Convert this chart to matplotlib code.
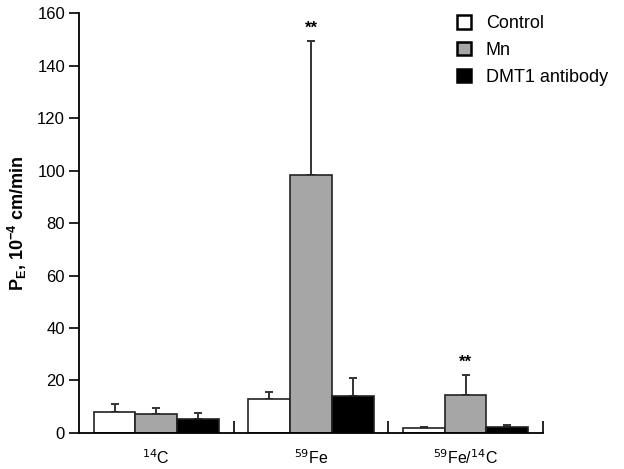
import matplotlib
matplotlib.use("Agg")
import matplotlib.pyplot as plt
from matplotlib.patches import Patch
import numpy as np

plt.rcParams['font.family'] = ['Liberation Sans', 'DejaVu Sans']

categories = ["$^{14}$C", "$^{59}$Fe", "$^{59}$Fe/$^{14}$C"]
series = ["Control", "Mn", "DMT1 antibody"]
control = [8.1, 12.8, 1.8]
mn = [7.2, 98.3, 14.6]
dmt1 = [5.5, 14.2, 2.4]
control_err = [2.8, 2.7, 0.4]
mn_err = [2.2, 51.2, 7.4]
dmt1_err = [2.2, 6.8, 0.5]
stars = ["", "**", "**"]

fig = plt.figure(figsize=(6.24, 4.69), dpi=100)
ax = fig.add_axes([0.1266, 0.0768, 0.7434, 0.8952])

colors = ["white", "#a6a6a6", "black"]
vals = [control, mn, dmt1]
errs = [control_err, mn_err, dmt1_err]
centers = np.arange(len(categories)) + 0.5
w = 0.27
for i, (v, e, c) in enumerate(zip(vals, errs, colors)):
    x = centers + (i - 1) * w
    ax.bar(x, v, width=w, color=c, edgecolor="#222222", linewidth=1.2, zorder=2)
    ax.errorbar(x, v, yerr=[np.zeros(len(v)), e], fmt="none", ecolor="#333333",
                elinewidth=1.4, capsize=3, capthick=1.4, zorder=1)

for j, s in enumerate(stars):
    if s:
        ax.text(centers[j], mn[j] + mn_err[j] + 2.0, s, ha="center", va="bottom",
                fontsize=12, fontweight='bold')

ax.set_xlim(0, 3)
ax.set_ylim(0, 160)
ax.spines['top'].set_visible(False)
ax.spines['right'].set_visible(False)
ax.spines['left'].set_linewidth(1.3)
ax.spines['bottom'].set_linewidth(1.3)
ax.set_yticks(np.arange(0, 161, 20))
ax.tick_params(axis='y', direction='out', length=7, width=1.2, labelsize=12, pad=3)
ax.set_xticks([1, 2, 3])
ax.set_xticklabels([])
ax.tick_params(axis='x', which='major', direction='in', length=9, width=1.2)
ax.set_xticks(centers, minor=True)
ax.set_xticklabels(categories, minor=True, fontsize=11.5)
ax.tick_params(axis='x', which='minor', length=0, pad=11)

ax.set_ylabel("P$_\\mathregular{E}$, 10$^{\\mathregular{-4}}$ cm/min", fontsize=13,
              fontweight='bold', labelpad=6)

handles = [Patch(facecolor=c, edgecolor="black", linewidth=1.8) for c in colors]
leg = ax.legend(handles, series, loc="upper left", bbox_to_anchor=(0.815, 0.995),
                frameon=False, fontsize=13, handlelength=0.75, handleheight=0.75,
                handletextpad=0.85, labelspacing=0.55, borderpad=0, borderaxespad=0)

fig.savefig("out.png", dpi=100)
